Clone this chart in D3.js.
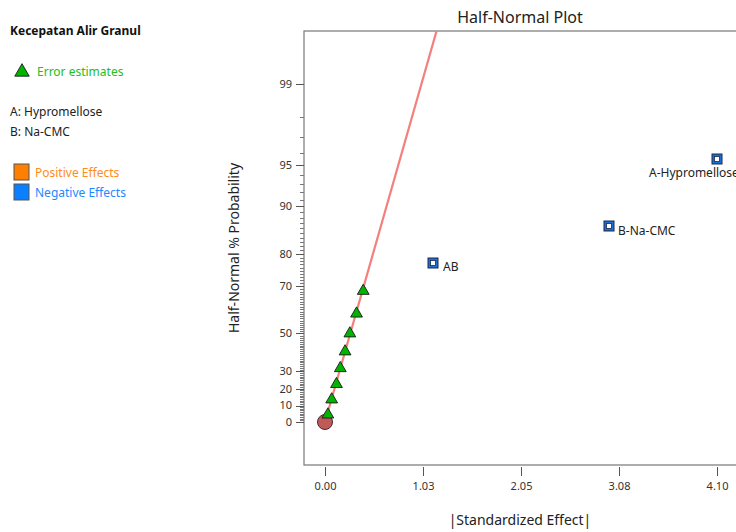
<!DOCTYPE html>
<html>
<head>
<meta charset="utf-8">
<script src="https://cdn.jsdelivr.net/npm/d3@7"></script>
<style>
  body { margin: 0; background: #fff; }
  svg { display: block; font-family: "Noto Sans", "Open Sans", sans-serif; }
</style>
</head>
<body>
<div id="chart"></div>
<script>
// --- data ---
const effectNames = ["A-Hypromellose", "B-Na-CMC", "AB"];
const effectValues = [4.10, 2.97, 1.13];        // |standardized effect|
const effectProbs = [95.5, 86.4, 77.3];         // half-normal % probability
const errorValues = [0.03, 0.07, 0.12, 0.16, 0.21, 0.26, 0.33, 0.40];
const errorProbs = [4.5, 13.6, 22.7, 31.8, 40.9, 50.0, 59.1, 68.2];
const originPoint = [0, 0];
const fitLineX = [0, 1.30];                     // effect at the two line ends
const fitLineP = [0, 99.91];                    // probability at the two line ends
const yTickValues = [0, 10, 20, 30, 50, 70, 80, 90, 95, 99];
const xTickValues = [0, 1.025, 2.05, 3.075, 4.10];
const xTickLabels = ["0.00", "1.03", "2.05", "3.08", "4.10"];
const factorLabels = ["A: Hypromellose", "B: Na-CMC"];

const width = 736;
const height = 532;

// inverse normal cdf (Acklam)
function probit(p) {
  const a = [-3.969683028665376e+01, 2.209460984245205e+02, -2.759285104469687e+02, 1.383577518672690e+02, -3.066479806614716e+01, 2.506628277459239e+00];
  const b = [-5.447609879822406e+01, 1.615858368580409e+02, -1.556989798598866e+02, 6.680131188771972e+01, -1.328068155288572e+01];
  const c = [-7.784894002430293e-03, -3.223964580411365e-01, -2.400758277161838e+00, -2.549671509498144e+00, 4.374664141464968e+00, 2.938163982698783e+00];
  const d = [7.784695709041462e-03, 3.224671290700398e-01, 2.445134137142996e+00, 3.754408661907416e+00];
  const pl = 0.02425;
  if (p < pl) {
    const q = Math.sqrt(-2 * Math.log(p));
    return (((((c[0]*q+c[1])*q+c[2])*q+c[3])*q+c[4])*q+c[5]) / ((((d[0]*q+d[1])*q+d[2])*q+d[3])*q+1);
  }
  if (p > 1 - pl) {
    const q = Math.sqrt(-2 * Math.log(1 - p));
    return -(((((c[0]*q+c[1])*q+c[2])*q+c[3])*q+c[4])*q+c[5]) / ((((d[0]*q+d[1])*q+d[2])*q+d[3])*q+1);
  }
  const q = p - 0.5, r = q * q;
  return (((((a[0]*r+a[1])*r+a[2])*r+a[3])*r+a[4])*r+a[5])*q / (((((b[0]*r+b[1])*r+b[2])*r+b[3])*r+b[4])*r+1);
}
// half-normal quantile of a percent
const hn = pct => pct <= 0 ? 0 : probit(0.5 + pct / 200);

// plot frame
const frame = { left: 304, top: 31, right: 737, bottom: 465 };

const x = d3.scaleLinear().domain([0, 4.10]).range([325, 717]);
const y = d3.scaleLinear().domain([0, hn(99)]).range([422, 84]);
const yp = pct => y(hn(pct));

const svg = d3.select("#chart").append("svg")
  .attr("width", width)
  .attr("height", height);

svg.append("defs").append("clipPath").attr("id", "plot-clip")
  .append("rect")
  .attr("x", frame.left).attr("y", frame.top)
  .attr("width", frame.right - frame.left).attr("height", frame.bottom - frame.top);

// title + axis titles
svg.append("text")
  .attr("x", 520).attr("y", 23)
  .attr("text-anchor", "middle")
  .attr("font-size", 16).attr("fill", "#222")
  .text("Half-Normal Plot");

svg.append("text")
  .attr("transform", "translate(239,248) rotate(-90)")
  .attr("text-anchor", "middle")
  .attr("font-size", 14).attr("fill", "#222")
  .text("Half-Normal % Probability");

svg.append("text")
  .attr("x", 520).attr("y", 525)
  .attr("text-anchor", "middle")
  .attr("font-size", 14).attr("fill", "#222")
  .text("|Standardized Effect|");

// frame
svg.append("rect")
  .attr("x", frame.left).attr("y", frame.top)
  .attr("width", frame.right - frame.left).attr("height", frame.bottom - frame.top)
  .attr("fill", "none").attr("stroke", "#777").attr("stroke-width", 1.2);

// y axis: minor ticks every percent, major at labelled values
const yAxis = svg.append("g").attr("stroke", "#777").attr("stroke-width", 1);
yAxis.selectAll("line.minor")
  .data(d3.range(1, 99).filter(v => !yTickValues.includes(v)))
  .join("line")
  .attr("class", "minor")
  .attr("x1", frame.left - 4).attr("x2", frame.left)
  .attr("y1", d => Math.round(yp(d)) + 0.5).attr("y2", d => Math.round(yp(d)) + 0.5);
yAxis.selectAll("line.major")
  .data(yTickValues)
  .join("line")
  .attr("class", "major")
  .attr("stroke", "#555")
  .attr("x1", frame.left - 8).attr("x2", frame.left)
  .attr("y1", d => Math.round(yp(d)) + 0.5).attr("y2", d => Math.round(yp(d)) + 0.5);
svg.append("g").selectAll("text")
  .data(yTickValues)
  .join("text")
  .attr("x", frame.left - 12).attr("y", d => yp(d))
  .attr("dy", "0.35em")
  .attr("text-anchor", "end")
  .attr("font-size", 11).attr("fill", "#333")
  .text(d => d);

// x axis (detached below frame)
const xAxis = d3.axisBottom(x)
  .tickValues(xTickValues)
  .tickFormat((d, i) => xTickLabels[i])
  .tickSize(9)
  .tickPadding(6);
const xg = svg.append("g")
  .attr("transform", `translate(0,${frame.bottom + 2})`)
  .call(xAxis);
xg.select(".domain").remove();
xg.selectAll(".tick line").attr("stroke", "#555");
xg.selectAll(".tick text")
  .attr("font-size", 11).attr("fill", "#333")
  .attr("font-family", "Noto Sans, sans-serif");

// plot content
const plot = svg.append("g").attr("clip-path", "url(#plot-clip)");

// fit line
plot.append("path")
  .datum(fitLineX.map((v, i) => [v, fitLineP[i]]))
  .attr("fill", "none")
  .attr("stroke", "#f47f7f")
  .attr("stroke-width", 2.2)
  .attr("d", d3.line().x(d => x(d[0])).y(d => yp(d[1])));

// origin marker
plot.append("circle")
  .attr("cx", x(originPoint[0])).attr("cy", yp(originPoint[1]))
  .attr("r", 7.5)
  .attr("fill", "#c05a58").attr("stroke", "#4a2a2a").attr("stroke-width", 1);

// error estimates
const tri = d3.symbol().type(d3.symbolTriangle).size(60);
plot.append("g").selectAll("path")
  .data(errorValues.map((v, i) => [v, errorProbs[i]]))
  .join("path")
  .attr("transform", d => `translate(${x(d[0])},${yp(d[1])})`)
  .attr("d", tri)
  .attr("fill", "#00b400").attr("stroke", "#1a1a1a").attr("stroke-width", 0.9);

// effects
const labelOffsets = {
  "A-Hypromellose": [-68, 18, "start"],
  "B-Na-CMC": [9, 9, "start"],
  "AB": [10, 8, "start"]
};
const effects = effectNames.map((n, i) => ({ name: n, v: effectValues[i], p: effectProbs[i] }));
const eg = plot.append("g").selectAll("g")
  .data(effects)
  .join("g")
  .attr("transform", d => `translate(${Math.round(x(d.v))},${Math.round(yp(d.p))})`);
eg.append("rect")
  .attr("x", -5).attr("y", -5).attr("width", 10).attr("height", 10)
  .attr("fill", "#1a6ed6").attr("stroke", "#1c2a48").attr("stroke-width", 1);
eg.append("rect")
  .attr("x", -2.5).attr("y", -2.5).attr("width", 5).attr("height", 5)
  .attr("fill", "#fff").attr("stroke", "#1c2a48").attr("stroke-width", 0.8);
eg.append("text")
  .attr("x", d => labelOffsets[d.name][0])
  .attr("y", d => labelOffsets[d.name][1])
  .attr("text-anchor", d => labelOffsets[d.name][2])
  .attr("font-size", 12).attr("fill", "#222")
  .text(d => d.name);

// legend panel
const lg = svg.append("g").attr("font-size", 12);
lg.append("text")
  .attr("x", 10).attr("y", 35)
  .attr("font-weight", "bold").attr("fill", "#111")
  .text("Kecepatan Alir Granul");
lg.append("path")
  .attr("transform", "translate(22,72)")
  .attr("d", d3.symbol().type(d3.symbolTriangle).size(90))
  .attr("fill", "#00b400").attr("stroke", "#1a1a1a").attr("stroke-width", 0.9);
lg.append("text")
  .attr("x", 37).attr("y", 76)
  .attr("fill", "#22c022")
  .text("Error estimates");
lg.selectAll("text.factor")
  .data(factorLabels)
  .join("text")
  .attr("class", "factor")
  .attr("x", 10).attr("y", (d, i) => 116 + i * 20)
  .attr("fill", "#222")
  .text(d => d);

const effectLegend = [
  { label: "Positive Effects", fill: "#ff8000", text: "#ff8c1a" },
  { label: "Negative Effects", fill: "#0a80ff", text: "#1e88ff" }
];
const el = lg.selectAll("g.eff")
  .data(effectLegend)
  .join("g")
  .attr("class", "eff")
  .attr("transform", (d, i) => `translate(14,${164 + i * 20})`);
el.append("rect")
  .attr("width", 15).attr("height", 16)
  .attr("fill", d => d.fill).attr("stroke", "#555").attr("stroke-width", 1);
el.append("text")
  .attr("x", 21).attr("y", 12.5)
  .attr("fill", d => d.text)
  .text(d => d.label);
</script>
</body>
</html>
